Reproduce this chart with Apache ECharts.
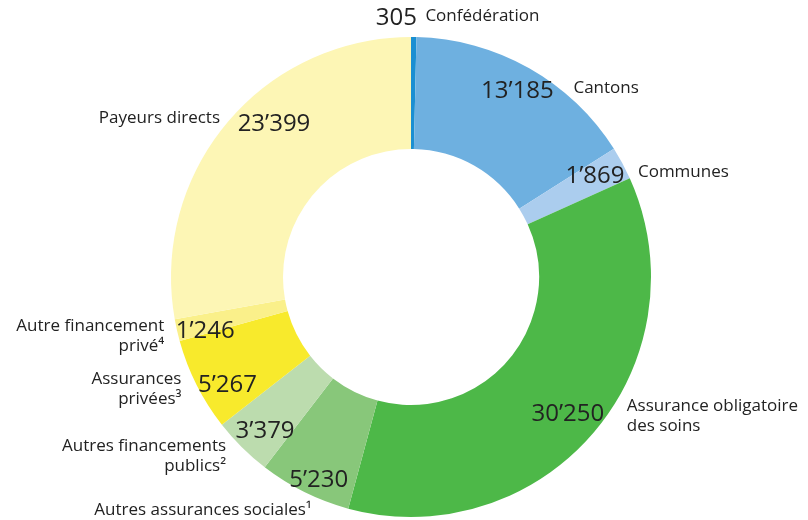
<!DOCTYPE html>
<html>
<head>
<meta charset="utf-8">
<script src="https://cdn.jsdelivr.net/npm/echarts@6/dist/echarts.min.js"></script>
<style>
html,body{margin:0;padding:0;background:#fff;}
#main{width:808px;height:520px;}
</style>
</head>
<body>
<div id="main"></div>
<script>
// ---- data ----
var categories = [
  'Confédération',
  'Cantons',
  'Communes',
  'Assurance obligatoire\ndes soins',
  'Autres assurances sociales¹',
  'Autres financements\npublics²',
  'Assurances\nprivées³',
  'Autre financement\nprivé⁴',
  'Payeurs directs'
];
var values = [305, 13185, 1869, 30250, 5230, 3379, 5267, 1246, 23399];

// ---- styles / layout (kept apart from data) ----
var colors = ['#1b8fd2', '#6eb0e0', '#abcdee', '#4db848', '#88c77a', '#bcdcae', '#f8ea2c', '#faf08a', '#fdf6b5'];
// offsets of value labels from their ring anchor
var valueOffsets = [[-17,-53],[3,-7],[-1,-5],[-3,-3],[1,11],[2,1],[4,10],[-1,4],[24,-22]];
var baselineShift = 4;
// offsets of name labels from the value label position, with alignment
var nameOffsets = [[29,-2,'left'],[56,-3,'left'],[43,-4,'left'],[59,2,'left'],[-7,30,'right'],[-39,25,'right'],[-46,4,'right'],[-41,5,'right'],[-54,-6,'right']];

function fmt(v){ return String(v).replace(/\B(?=(\d{3})+(?!\d))/g, '\u2019'); }

var chart = echarts.init(document.getElementById('main'), null, {renderer:'canvas'});

var pieData = categories.map(function(c,i){ return {name:c, value:values[i], itemStyle:{color:colors[i]}}; });
var ghostData = categories.map(function(c,i){ return {name:c, value:values[i]}; });

var CENTER = [411, 277];
var FONT = '"Open Sans", "Noto Sans", sans-serif';

function anchorOf(p){
  return [p.labelRect.x + p.labelRect.width/2, p.labelRect.y + p.labelRect.height/2 + baselineShift];
}

chart.setOption({
  animation:false,
  backgroundColor:'#ffffff',
  series:[
    {
      type:'pie',
      center:CENTER,
      radius:[128,240],
      startAngle:90,
      clockwise:true,
      silent:true,
      avoidLabelOverlap:false,
      label:{show:false},
      labelLine:{show:false},
      itemStyle:{borderWidth:0},
      emphasis:{disabled:true},
      data:pieData
    },
    {
      type:'pie',
      center:CENTER,
      radius:[195,219],
      startAngle:90,
      clockwise:true,
      silent:true,
      avoidLabelOverlap:false,
      itemStyle:{color:'rgba(0,0,0,0)', borderWidth:0},
      emphasis:{disabled:true},
      labelLine:{show:false},
      label:{
        show:true, position:'inside',
        formatter:function(p){ return fmt(p.value); },
        color:'#222222', fontFamily:FONT, fontSize:24, fontWeight:'normal'
      },
      labelLayout:function(p){
        var a = anchorOf(p), o = valueOffsets[p.dataIndex];
        return {x:a[0]+o[0], y:a[1]+o[1], align:'center', verticalAlign:'middle'};
      },
      data:ghostData
    },
    {
      type:'pie',
      center:CENTER,
      radius:[195,219],
      startAngle:90,
      clockwise:true,
      silent:true,
      avoidLabelOverlap:false,
      itemStyle:{color:'rgba(0,0,0,0)', borderWidth:0},
      emphasis:{disabled:true},
      labelLine:{show:false},
      label:{
        show:true, position:'inside',
        formatter:function(p){ return p.name; },
        color:'#222222', fontFamily:FONT, fontSize:17, lineHeight:20
      },
      labelLayout:function(p){
        var a = anchorOf(p), v = valueOffsets[p.dataIndex], o = nameOffsets[p.dataIndex];
        return {x:a[0]+v[0]+o[0], y:a[1]+v[1]+o[1], align:o[2], verticalAlign:'middle'};
      },
      data:ghostData
    }
  ]
});
</script>
</body>
</html>
